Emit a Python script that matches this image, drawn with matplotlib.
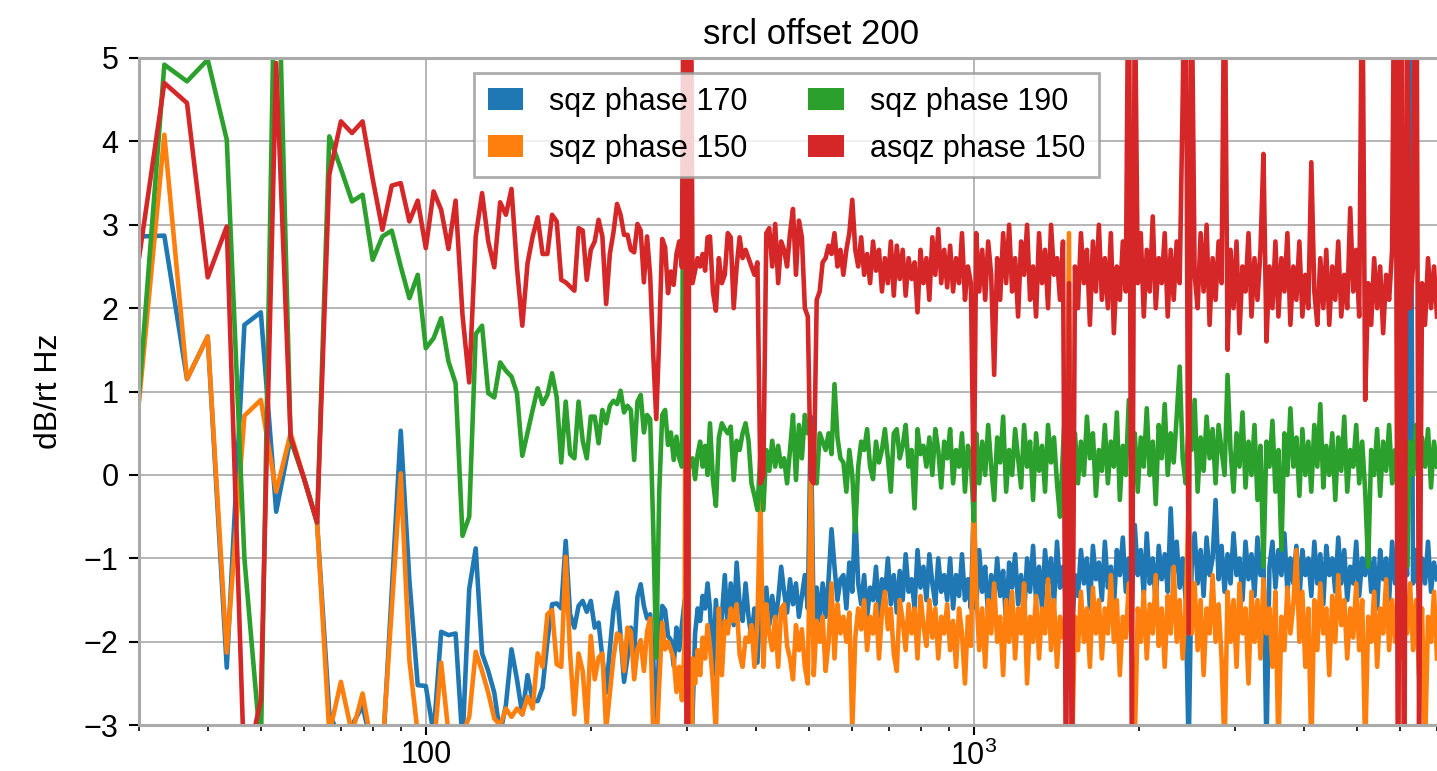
import numpy as np
import matplotlib
matplotlib.use('Agg')
import matplotlib.pyplot as plt
from matplotlib.patches import Patch
from matplotlib.ticker import LogLocator, NullFormatter

plt.rcParams['font.family'] = ['Liberation Sans', 'DejaVu Sans']

# frequency grids (Hz): fine bins at low f, log spaced above 330 Hz
freq_lo = 30 + np.arange(90) * 10 / 3
freq_mid = np.geomspace(330, 1000, 90)
freq_hi = np.geomspace(1010, 7000, 155)

labels = ["sqz phase 170", "sqz phase 150", "sqz phase 190", "asqz phase 150"]
colors = ["#1f77b4", "#ff7f0e", "#2ca02c", "#d62728"]

# sqz phase 170 (dB/rt Hz)
blue_lo = [2.86, 2.87, 1.15, 1.66, -2.31, 1.80, 1.95, -0.44, 0.45, -0.05,
           -0.57, -2.85, -3.2, -3.0, -2.77, -3.3, -3.4, -1.4, 0.53, -1.26,
           -2.52, -2.53, -3.1, -1.88, -1.92, -1.9, -3.2, -1.37, -0.88, -2.14,
           -2.35, -2.61, -3.1, -2.76, -2.09, -2.45, -2.87, -2.40, -2.71, -2.71,
           -2.55, -2.0, -1.55, -1.54, -1.6, -0.79, -1.67, -1.83, -1.57, -1.51,
           -1.64, -1.51, -1.83, -1.77, -2.19, -2.61, -2.09, -1.62, -1.41, -1.93,
           -2.48, -2.19, -1.83, -2.14, -1.46, -1.31, -1.57, -1.72, -1.67, -2.19,
           -3.1, -2.0, -1.57, -1.62, -1.93, -1.98, -2.29, -1.83, -2.1, -1.8,
           -1.5, -1.8, -4.0, -2.9, -1.9, -1.6, -1.75, -1.45, -1.6, -1.3]
blue_mid = [-1.6, -2.4, -1.5, -2.0, -1.7, -1.2, -1.85, -1.3, -1.8, -1.05,
            -1.55, -1.75, -1.3, -1.7, -1.95, -1.6, -2.25, -1.5, -1.85, -1.35,
            -1.8, -1.45, -1.75, -1.5, -1.1, -1.4, -1.65, -1.25, -1.55, -1.3,
            -1.7, -1.45, -1.2, -1.6, 0.7, -1.9, -1.35, -1.75, -1.3, -1.7,
            -1.25, -0.65, -1.1, -1.5, -1.25, -1.2, -1.6, -1.05, -1.4, -0.45,
            -1.3, -1.55, -1.2, -1.7, -1.35, -1.5, -1.1, -1.7, -1.25, -1.45,
            -1.0, -1.55, -1.2, -1.65, -1.15, -1.5, -0.95, -1.4, -1.25, -1.6,
            -0.9, -1.35, -1.1, -1.5, -0.95, -1.3, -1.55, -1.0, -1.4, -1.2,
            -1.5, -1.0, -1.6, -1.2, -1.45, -0.95, -1.5, -1.25, -1.6, -0.3]
blue_hi = [-1.6, -0.9, -1.4, -1.1, -1.7, -1.2, -1.5, -1.0, -1.45, -1.15,
           -1.8, -1.05, -1.35, -0.95, -1.55, -1.2, -1.7, -1.0, -1.4, -0.85,
           -1.5, -1.1, -1.6, -0.9, -1.3, -1.0, -1.55, -0.8, -1.35, -1.1,
           -1.5, -0.4, -1.9, -1.2, -1.45, -0.9, -1.3, -1.0, -1.6, -0.85,
           -1.25, -1.05, -1.5, -0.8, -1.35, -1.1, -1.6, -0.9, -1.2, -0.75,
           -1.4, -1.0, -1.5, -0.6, -1.2, -0.9, -1.45, -0.7, -1.3, -1.0,
           -1.55, -0.85, -1.25, -0.95, -1.4, -0.4, -1.2, -0.8, -1.35, -1.0,
           -1.5, -3.3, -1.1, -0.7, -1.3, -0.9, -1.45, -0.75, -1.2, -1.0,
           -0.3, -1.25, -0.85, -1.4, -0.95, -1.3, -0.7, -1.2, -1.0, -1.5,
           -0.8, -1.25, -0.95, -1.45, -0.75, -1.2, -1.0, -3.3, -1.1, -0.8,
           -1.35, -0.9, -1.2, -0.7, -1.4, -1.0, -1.3, -0.85, -1.5, -0.9,
           -1.2, -1.0, -1.45, -0.8, -1.3, -0.95, -1.55, -0.85, -1.2, -1.0,
           -1.4, -0.75, -1.3, -0.9, -1.5, -1.1, -1.3, -0.8, -1.45, -1.0,
           -1.2, -0.85, -1.4, -1.0, -1.6, -0.9, -1.25, -1.0, -1.5, -0.8,
           -1.3, -1.0, -1.4, -0.7, -1.2, 6.0, -1.3, -0.9, -1.45, -1.0,
           -1.3, -0.8, -1.4, -1.05, -1.25]

# sqz phase 150
orange_lo = [0.9, 4.08, 1.15, 1.66, -2.13, 0.71, 0.90, -0.20, 0.50, -0.05,
             -0.57, -3.1, -2.48, -3.1, -2.62, -3.3, -3.3, -1.6, 0.02, -2.22,
             -3.1, -3.3, -3.3, -2.25, -3.1, -3.3, -3.1, -2.9, -2.12, -2.35,
             -2.61, -2.92, -3.0, -2.8, -2.9, -2.8, -2.87, -2.66, -2.8, -2.14,
             -2.30, -1.67, -1.62, -2.27, -2.30, -0.98, -2.14, -2.87, -2.14, -2.35,
             -3.0, -1.93, -2.45, -2.19, -2.14, -3.05, -2.61, -2.19, -1.90, -1.93,
             -2.35, -1.83, -1.88, -2.45, -2.09, -1.98, -2.35, -1.88, -1.72, -3.1,
             -3.3, -2.5, -1.77, -2.09, -2.0, -2.1, -2.2, -2.6, -2.3, -2.7,
             -2.0, 9.0, -9.0, -2.2, -2.5, -2.1, -2.4, -1.95, -2.2, -1.8]
orange_mid = [-2.05, -2.5, -3.1, -1.6, -2.4, -1.75, -1.9, -1.6, -1.75, -1.55,
              -2.15, -2.3, -1.95, -2.0, -1.8, -2.3, -1.75, -0.3, -2.3, -1.55,
              -1.9, -2.1, -1.7, -2.3, -1.6, -1.55, -2.05, -2.2, -2.45, -1.8,
              -2.1, -1.85, -2.3, -2.5, 0.0, -2.4, -1.75, -2.0, -1.7, -2.35,
              -2.0, -1.3, -2.2, -1.55, -1.9, -1.7, -2.0, -1.65, -3.05, -1.95,
              -1.6, -1.85, -1.5, -2.1, -1.7, -1.9, -1.55, -2.2, -1.65, -1.4,
              -1.85, -1.6, -2.15, -2.35, -1.5, -1.75, -2.1, -1.55, -1.9, -1.6,
              -2.2, -1.45, -1.8, -2.05, -1.5, -1.95, -1.6, -2.2, -1.7, -1.9,
              -1.55, -2.1, -1.75, -2.3, -1.6, -1.9, -2.5, -1.7, -2.05, -0.3]
orange_hi = [-1.4, -2.1, -1.6, -2.3, -1.5, -1.9, -1.3, -2.0, -1.7, -2.4,
             -1.5, -2.0, -1.4, -2.2, -1.6, -1.9, -1.3, -2.5, -1.7, -2.0,
             -1.45, -2.2, -1.6, -1.9, -1.25, -2.1, -1.5, -2.3, -1.7, -1.95,
             -1.8, 2.9, -3.4, -1.7, -2.1, -1.4, -2.0, -1.6, -2.3, -1.35,
             -1.9, -1.5, -2.2, -1.6, -1.9, -1.2, -2.0, -1.5, -2.4, -1.7,
             -1.95, -1.3, -2.1, -3.2, -1.6, -2.0, -1.4, -2.2, -1.55, -1.9,
             -1.2, -2.05, -1.6, -2.3, -1.45, -1.9, -1.1, -2.0, -1.5, -2.2,
             -1.6, -0.3, -1.9, -1.3, -2.1, -1.5, -2.4, -1.6, -1.9, -1.2,
             -2.0, -1.55, -2.2, -3.3, -1.4, -2.0, -1.5, -2.3, -1.3, -1.9,
             -1.6, -2.5, -1.4, -2.0, -1.5, -2.2, -1.25, -1.9, -1.6, -2.3,
             -1.4, -3.3, -1.7, -2.1, -1.35, -1.9, -1.55, -0.9, -2.0, -1.4,
             -2.3, -1.6, -3.3, -1.5, -2.1, -1.3, -1.9, -1.6, -2.4, -1.45,
             -2.0, -1.2, -1.8, -1.5, -2.2, -1.6, -1.95, -1.3, -2.1, -1.5,
             -3.3, -1.7, -2.0, -1.4, -2.3, -1.6, -1.9, -1.25, -2.1, -1.5,
             -2.0, -1.4, -2.2, -1.6, -1.9, -1.3, -2.1, -1.5, -2.4, -1.6,
             -3.3, -1.7, -2.0, -1.4, -2.2]

# sqz phase 190
green_lo = [1.0, 4.92, 4.72, 4.98, 4.02, -1.0, -3.3, 7.2, 0.42, -0.05,
            -0.57, 4.06, 3.67, 3.28, 3.36, 2.58, 2.86, 2.93, 2.50, 2.12,
            2.40, 1.52, 1.64, 1.88, 1.36, 1.10, -0.73, -0.50, 1.69, 1.79,
            0.98, 0.93, 1.35, 1.25, 1.18, 0.98, 0.23, 0.51, 0.78, 1.04,
            0.85, 0.96, 1.22, 0.93, 0.15, 0.88, 0.25, 0.20, 0.88, 0.41,
            0.20, 0.70, 0.70, 0.38, 0.78, 0.62, 0.83, 0.89, 0.85, 1.01,
            0.75, 0.83, 0.78, 0.18, 0.88, 0.96, 0.51, 0.72, 0.67, -0.63,
            -2.19, -0.2, 0.72, 0.78, 0.36, 0.51, 0.18, 0.46, 0.2, 0.1,
            9.0, 0.2, 0.1, 0.2, -0.05, 0.25, 0.4, 0.1, 0.35, 0.0]
green_mid = [0.62, -0.06, -0.37, 0.45, 0.62, 0.55, 0.5, 0.58, -0.06, 0.41,
             0.3, 0.5, 0.62, 0.41, -0.1, -0.25, -0.42, 0.25, -0.42, 0.3,
             0.05, 0.41, 0.1, 0.35, 0.1, 0.2, -0.1, 0.3, 0.72, -0.06,
             0.6, 0.2, 0.72, 0.5, 0.6, 0.0, -0.1, 0.5, 0.4, 0.3,
             0.5, 0.25, 1.09, 0.45, 0.2, 0.15, -0.2, 0.3, 0.0, -0.68,
             0.1, 0.4, 0.3, 0.55, 0.1, -0.05, 0.4, 0.15, 0.3, 0.55,
             0.2, -0.2, 0.5, 0.55, 0.2, 0.35, 0.6, 0.1, 0.3, -0.4,
             0.55, 0.25, 0.35, 0.1, 0.45, 0.0, 0.55, 0.3, -0.15, 0.4,
             0.2, 0.55, -0.1, 0.3, 0.1, 0.5, -0.2, 0.35, 0.15, -0.55]
green_hi = [0.5, -0.1, 0.4, 0.0, 0.6, 0.1, -0.3, 0.45, 0.15, 0.7,
            -0.2, 0.3, 0.0, 0.55, 0.2, -0.15, 0.6, 0.1, 0.4, -0.3,
            0.5, 0.05, 0.35, -0.2, 0.6, 0.15, 0.45, -0.1, -0.5, 0.3,
            1.1, -2.2, 0.2, 0.5, -0.1, 0.4, 0.0, 0.7, 0.2, 0.5,
            -0.25, 0.3, 0.05, 0.6, -0.1, 0.4, 0.1, 0.75, -0.3, 0.35,
            0.0, 0.9, 0.1, 0.5, -0.2, 0.45, 0.1, 0.8, 0.0, 0.4,
            -0.35, 0.6, 0.2, 0.85, 0.0, 0.5, 0.15, 0.7, 1.3, 0.2,
            -0.1, 0.6, 0.3, 0.9, -0.2, 0.45, 0.05, 0.7, 0.2, 0.55,
            -0.1, 0.6, 0.3, 0.0, 1.2, 0.3, -0.2, 0.5, 0.1, 0.75,
            -0.15, 0.4, 0.0, 0.6, -0.3, 0.35, -1.1, 0.4, 0.1, 0.65,
            -0.2, 0.3, -0.9, 0.5, 0.0, 0.8, 0.1, 0.45, -0.25, 0.55,
            0.0, 0.4, -0.2, 0.6, 0.1, 0.85, -0.15, 0.35, 0.0, 0.5,
            -0.3, 0.45, 0.05, 0.7, -0.2, 0.3, 0.1, 0.6, -0.1, 0.4,
            -0.2, -1.1, 0.3, 0.0, 0.55, -0.25, 0.4, 0.05, 0.6, -0.1,
            0.3, -0.3, 0.5, 1.8, -1.1, 0.4, 0.0, 0.6, -0.2, 0.45,
            0.1, 0.55, -0.15, 0.4, 0.1]

# asqz phase 150
red_lo = [2.62, 4.70, 4.46, 2.37, 2.98, -3.6, -2.7, 4.94, 0.46, -0.05,
          -0.57, 3.60, 4.24, 4.10, 4.24, 3.55, 2.94, 3.47, 3.50, 3.04,
          3.29, 2.72, 3.40, 3.18, 2.71, 3.29, 1.92, 1.11, 2.86, 3.38,
          2.80, 2.49, 3.27, 3.12, 3.43, 2.49, 1.79, 2.54, 2.86, 3.09,
          2.65, 2.65, 3.12, 3.04, 2.34, 2.31, 2.26, 2.21, 2.96, 2.93,
          2.34, 2.70, 2.80, 3.06, 2.86, 2.05, 2.65, 2.91, 3.25, 3.12,
          2.88, 2.88, 2.70, 2.67, 3.01, 2.93, 2.31, 2.86, 2.39, 1.45,
          0.67, 1.66, 2.83, 2.73, 2.18, 2.44, 2.28, 2.65, 2.80, 2.49,
          9.0, -9.0, 9.0, 2.3, 2.45, 2.6, 2.5, 2.65, 2.45, 2.85]
red_mid = [2.86, 2.2, 1.97, 2.6, 2.3, 2.4, 2.9, 2.85, 2.0, 2.5,
           2.85, 2.6, 2.7, 2.6, 2.5, 2.4, 2.55, -0.1, 0.0, 2.9,
           2.96, 2.5, 3.01, 2.3, 2.8, 2.7, 2.5, 2.9, 3.19, 2.4,
           3.05, 2.85, 2.0, 1.9, -0.05, -0.1, 2.1, 2.2, 2.55, 2.6,
           2.75, 2.65, 2.9, 2.5, 2.7, 2.4, 2.7, 2.9, 3.3, 2.7,
           2.5, 2.85, 2.4, 2.65, 2.3, 2.8, 2.45, 2.7, 2.2, 2.6,
           2.3, 2.8, 2.15, 2.75, 2.35, 2.7, 2.15, 2.6, 2.35, 2.55,
           1.95, 2.7, 2.3, 2.6, 2.1, 2.85, 2.4, 2.95, 2.3, 2.7,
           2.25, 2.75, 2.2, 2.6, 2.3, 2.9, 2.1, 2.5, 2.3, -0.3]
red_hi = [2.9, 2.2, 2.7, 2.1, 2.8, 2.4, 1.2, 2.6, 2.1, 2.9,
          2.3, 3.0, 2.2, 2.6, 1.9, 2.8, 2.4, 3.0, 2.1, 2.5,
          1.9, 2.9, 2.3, 2.7, 2.0, 3.0, 2.4, 2.6, 2.1, 2.8,
          -4.0, 2.3, -4.0, 2.5, 2.0, 2.9, 2.3, 2.7, 1.8, 2.8,
          2.2, 3.0, 2.1, 2.6, 2.0, 2.9, 1.7, 2.5, 2.1, 2.8,
          2.2, 7.0, -3.4, 6.0, 2.3, 2.9, 1.9, 2.7, 2.2, 3.1,
          2.0, 2.6, 2.3, 2.9, 1.9, 2.7, 2.1, 2.8, 2.3, 4.5,
          7.0, -1.9, 6.0, 2.4, 2.0, 2.9, 2.2, 3.0, 1.8, 2.6,
          2.1, 2.8, 2.3, 6.5, 1.5, 2.7, 2.0, 2.8, 1.7, 2.5,
          2.2, 2.9, 1.9, 2.6, 2.1, 2.7, 3.85, 1.6, 2.5, 2.0,
          2.8, 1.9, 2.6, 2.2, 2.9, 1.8, 2.5, 2.1, 2.8, 1.9,
          2.4, 2.0, 3.75, 2.2, 1.8, 2.6, 2.0, 2.7, 1.8, 2.5,
          2.1, 2.8, 1.9, 2.4, 2.0, 3.2, 2.2, 2.7, 1.9, 6.5,
          0.9, 2.3, 1.8, 2.6, 2.0, 2.5, 1.7, 2.4, 2.1, 2.7,
          8.0, -5.0, 8.0, -5.0, 6.0, 2.0, 2.5, 8.0, -3.2, 2.3,
          1.8, 2.6, 2.0, 2.5, 1.9]

freq = np.concatenate([freq_lo, freq_mid, freq_hi])
series = [
    np.concatenate([blue_lo, blue_mid, blue_hi]),
    np.concatenate([orange_lo, orange_mid, orange_hi]),
    np.concatenate([green_lo, green_mid, green_hi]),
    np.concatenate([red_lo, red_mid, red_hi]),
]

fig = plt.figure(figsize=(14.37, 7.71), dpi=100)
ax = fig.add_axes([0.0969, 0.0594, 0.9031, 0.8654])

for vals, c in zip(series, colors):
    ax.plot(freq, vals, color=c, lw=3.3)

ax.set_xscale('log')
ax.set_xlim(30, 7000)
ax.set_ylim(-3, 5)
ax.set_xticks([100, 1000], labels=['100', r'$\mathregular{10^3}$'])
ax.xaxis.set_minor_locator(LogLocator(base=10, subs=np.arange(2, 10)))
ax.xaxis.set_minor_formatter(NullFormatter())
ax.set_yticks(range(-3, 6))

ax.grid(True, which='major', color='#b0b0b0', lw=1.3)
ax.set_axisbelow(True)
for side in ['left', 'bottom', 'top']:
    ax.spines[side].set_color('#aaaaaa')
    ax.spines[side].set_linewidth(2.2)
ax.spines['right'].set_visible(False)

ax.tick_params(axis='both', which='major', direction='out', length=7, width=1.5,
               colors='black', labelsize=22)
ax.tick_params(axis='both', which='minor', direction='out', length=4, width=1.2,
               colors='black')
ax.tick_params(axis='x', which='major', pad=4)
ax.tick_params(axis='y', which='major', pad=8)

ax.set_ylabel('dB/rt Hz', fontsize=23, labelpad=14)
ax.set_title('srcl offset 200', fontsize=25, pad=10, x=0.518)

handles = [Patch(facecolor=c, edgecolor='none') for c in colors]
leg = ax.legend(handles, labels, ncol=2, loc='upper left',
                bbox_to_anchor=(0.2579, 0.9775), borderaxespad=0,
                fontsize=22, fancybox=False, edgecolor='#999999', framealpha=0.8,
                handlelength=1.15, handleheight=0.7, handletextpad=0.85,
                columnspacing=2.0, borderpad=0.45, labelspacing=0.55)
leg.get_frame().set_linewidth(2)

fig.savefig('out.png', dpi=100)
